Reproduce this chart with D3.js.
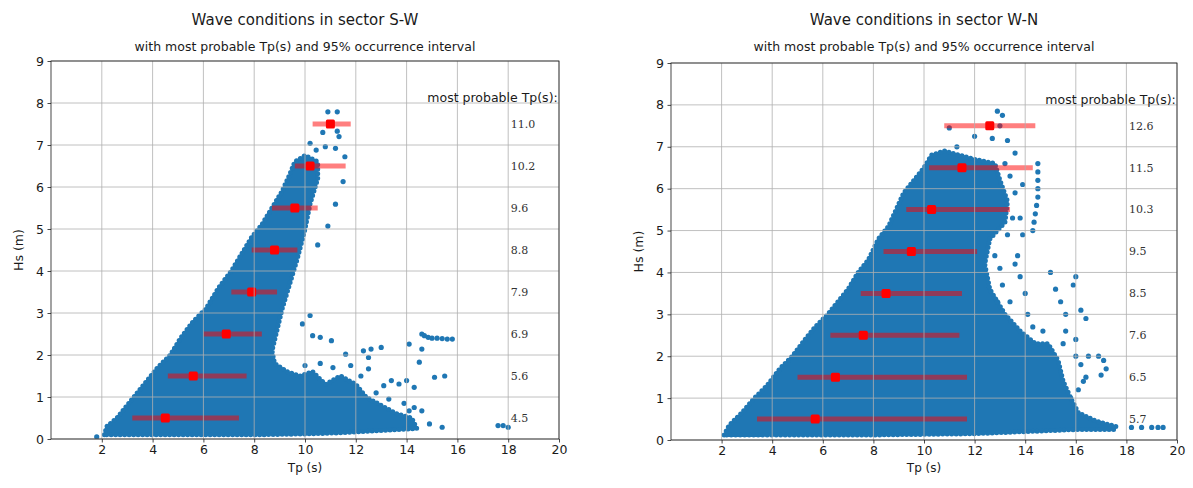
<!DOCTYPE html>
<html>
<head>
<meta charset="utf-8">
<script src="https://cdn.jsdelivr.net/npm/d3@7"></script>
<style>
  html, body { margin: 0; padding: 0; background: #ffffff; }
  svg { display: block; }
</style>
</head>
<body>
<div id="chart"></div>
<script>
// Wave conditions per sector: Hs against Tp, with most probable Tp and 95% interval per 1 m Hs bin

const tpTicks = [2, 4, 6, 8, 10, 12, 14, 16, 18, 20];
const hsTicks = [0, 1, 2, 3, 4, 5, 6, 7, 8, 9];
const hsBins = [0.5, 1.5, 2.5, 3.5, 4.5, 5.5, 6.5, 7.5];

// sector S-W
const swMostProbable = [4.5, 5.6, 6.9, 7.9, 8.8, 9.6, 10.2, 11.0];
const swLow = [3.2, 4.6, 6.0, 7.1, 7.9, 8.7, 9.6, 10.3];
const swHigh = [7.4, 7.7, 8.3, 8.9, 9.7, 10.5, 11.6, 11.8];
const swCloud = [
  [2.1, 0.1], [2.2, 0.3], [2.6, 0.5], [3.0, 0.8], [3.4, 1.1], [3.8, 1.4], [4.2, 1.7],
  [4.7, 2.0], [5.1, 2.4], [5.6, 2.8], [6.1, 3.1], [6.6, 3.6], [7.1, 4.0], [7.5, 4.4],
  [7.9, 4.8], [8.3, 5.1], [8.7, 5.5], [9.1, 5.9], [9.4, 6.3], [9.6, 6.6], [10.0, 6.75],
  [10.5, 6.6], [10.5, 6.2], [10.2, 5.6], [10.0, 5.0], [9.7, 4.3], [9.4, 3.7], [9.1, 3.1],
  [8.9, 2.6], [8.7, 2.1], [8.8, 1.8], [9.3, 1.6], [9.8, 1.5], [10.3, 1.6], [10.8, 1.3],
  [11.4, 1.5], [12.0, 1.3], [12.4, 1.0], [13.0, 0.8], [13.6, 0.6], [14.2, 0.5], [14.4, 0.25],
  [13.0, 0.2], [11.5, 0.15], [10.0, 0.12], [8.0, 0.1], [6.0, 0.1], [4.0, 0.1], [2.6, 0.1]
];
const swPoints = [
  [1.8, 0.05], [10.9, 7.79], [11.27, 7.79], [10.7, 7.3], [11.27, 7.33], [11.34, 7.2],
  [10.2, 7.04], [10.8, 6.96], [10.44, 6.88], [11.2, 6.92], [11.57, 6.72], [10.07, 6.7],
  [11.5, 6.13], [11.2, 5.59], [10.9, 5.07], [10.5, 4.62], [10.2, 2.94],
  [9.9, 2.74], [10.3, 2.46], [10.6, 2.42], [11.04, 2.34], [11.6, 2.02], [12.3, 2.1],
  [12.6, 2.14], [13.0, 2.18], [14.1, 2.26], [14.6, 2.14], [14.6, 2.5], [14.7, 2.46],
  [14.85, 2.42], [15.0, 2.4], [15.2, 2.4], [15.4, 2.39], [15.6, 2.38], [15.8, 2.38],
  [14.5, 1.83], [15.1, 1.47], [15.5, 1.5], [14.0, 1.39], [14.3, 1.23], [13.4, 1.39],
  [13.7, 1.31], [12.5, 1.94], [12.5, 1.67], [13.1, 1.27], [17.6, 0.32], [17.8, 0.32],
  [18.0, 0.28], [14.1, 0.67], [14.6, 0.67], [15.4, 0.28], [14.9, 0.36],
  [10.0, 1.75], [10.6, 1.8], [11.1, 1.7], [11.8, 1.75], [12.2, 1.5], [12.8, 1.1],
  [13.3, 0.95], [13.9, 0.85], [14.3, 0.75]
];

// sector W-N
const wnMostProbable = [5.7, 6.5, 7.6, 8.5, 9.5, 10.3, 11.5, 12.6];
const wnLow = [3.4, 5.0, 6.3, 7.5, 8.4, 9.3, 10.2, 10.8];
const wnHigh = [11.7, 11.7, 11.4, 11.5, 12.1, 13.4, 14.3, 14.4];
const wnCloud = [
  [2.1, 0.12], [2.3, 0.35], [2.8, 0.65], [3.3, 1.0], [3.8, 1.3], [4.3, 1.7], [4.8, 2.0],
  [5.3, 2.4], [5.7, 2.7], [6.2, 3.0], [6.6, 3.3], [7.0, 3.6], [7.4, 4.0], [7.8, 4.3],
  [8.2, 4.8], [8.6, 5.1], [8.9, 5.5], [9.2, 5.9], [9.6, 6.2], [10.0, 6.5], [10.3, 6.8],
  [10.8, 6.9], [11.4, 6.8], [12.0, 6.7], [12.8, 6.6], [13.0, 6.2], [13.3, 5.7], [13.2, 5.2],
  [12.6, 4.8], [12.4, 4.2], [12.6, 3.6], [13.2, 3.0], [13.8, 2.6], [14.4, 2.3], [14.9, 2.3],
  [15.3, 1.9], [15.5, 1.4], [15.8, 1.0], [16.1, 0.65], [16.8, 0.45], [17.6, 0.32],
  [17.5, 0.25], [16.0, 0.25], [14.0, 0.2], [12.0, 0.15], [8.0, 0.12], [4.0, 0.12]
];
const wnPoints = [
  [12.9, 7.85], [13.1, 7.75], [11.0, 7.45], [12.0, 7.25], [13.0, 7.5], [13.3, 7.15],
  [12.7, 7.2], [11.3, 7.0], [13.6, 6.85], [14.5, 6.6], [14.5, 6.4], [14.5, 6.2],
  [14.5, 6.0], [14.5, 5.8], [14.45, 5.6], [14.4, 5.4], [14.35, 5.2], [14.3, 5.0],
  [13.6, 5.9], [13.8, 5.3], [13.9, 4.9], [13.7, 4.4], [13.8, 3.9], [14.0, 3.5],
  [15.0, 4.0], [15.2, 3.6], [15.4, 3.3], [15.6, 3.0], [16.0, 3.9], [15.9, 3.7],
  [16.2, 3.1], [16.4, 2.9], [15.6, 2.6], [16.0, 2.4], [16.5, 2.0], [16.9, 2.0],
  [17.1, 1.9], [17.2, 1.7], [17.0, 1.55], [16.3, 1.4], [16.1, 1.2], [15.8, 1.0],
  [18.2, 0.3], [18.6, 0.3], [19.0, 0.3], [19.25, 0.3], [19.45, 0.3],
  [12.8, 4.4], [13.0, 4.1], [13.1, 3.7], [13.4, 3.3], [13.6, 4.2], [13.3, 4.9],
  [13.5, 5.3], [12.9, 3.3], [13.4, 6.3], [13.2, 6.6], [13.9, 6.1], [14.1, 3.0],
  [14.3, 2.7], [14.7, 2.6], [15.5, 2.3], [16.2, 1.8], [16.4, 1.5], [16.0, 2.0]
];

const panels = [
  {
    title: "Wave conditions in sector S-W",
    left: 51, right: 559, top: 61, bottom: 439,
    cloud: swCloud, points: swPoints,
    mostProbable: swMostProbable, low: swLow, high: swHigh
  },
  {
    title: "Wave conditions in sector W-N",
    left: 671, right: 1177, top: 63, bottom: 440,
    cloud: wnCloud, points: wnPoints,
    mostProbable: wnMostProbable, low: wnLow, high: wnHigh
  }
];

const width = 1193;
const height = 488;
const font = '"DejaVu Sans", sans-serif';
const blue = "#1f77b4";

const svg = d3.select("#chart")
  .append("svg")
  .attr("width", width)
  .attr("height", height)
  .attr("viewBox", [0, 0, width, height]);

svg.append("rect").attr("width", width).attr("height", height).attr("fill", "#ffffff");

panels.forEach(function(p) {
  const x = d3.scaleLinear().domain([0, 20]).range([p.left, p.right]);
  const y = d3.scaleLinear().domain([0, 9]).range([p.bottom, p.top]);
  const cx = (p.left + p.right) / 2;
  const g = svg.append("g");

  // titles
  g.append("text")
    .attr("x", cx)
    .attr("y", 25)
    .attr("text-anchor", "middle")
    .attr("font-family", font)
    .attr("font-size", 15)
    .attr("fill", "#1a1a1a")
    .text(p.title);

  g.append("text")
    .attr("x", cx)
    .attr("y", 51)
    .attr("text-anchor", "middle")
    .attr("font-family", font)
    .attr("font-size", 12.5)
    .attr("fill", "#1a1a1a")
    .text("with most probable Tp(s) and 95% occurrence interval");

  const clip = "clip-" + p.left;
  g.append("clipPath").attr("id", clip)
    .append("rect")
    .attr("x", p.left).attr("y", p.top)
    .attr("width", p.right - p.left).attr("height", p.bottom - p.top);

  const plot = g.append("g").attr("clip-path", "url(#" + clip + ")");

  // dense part of the scatter cloud, edge drawn as a row of dots
  const line = d3.line()
    .x(function(d) { return x(d[0]); })
    .y(function(d) { return y(d[1]); })
    .curve(d3.curveLinearClosed);

  plot.append("path")
    .attr("d", line(p.cloud))
    .attr("fill", blue)
    .attr("stroke", blue)
    .attr("stroke-width", 5)
    .attr("stroke-linecap", "round")
    .attr("stroke-dasharray", "0 4.5");

  plot.append("g")
    .selectAll("circle")
    .data(p.points)
    .join("circle")
    .attr("cx", function(d) { return x(d[0]); })
    .attr("cy", function(d) { return y(d[1]); })
    .attr("r", 2.6)
    .attr("fill", blue);

  // grid above the scatter, as matplotlib does
  const grid = g.append("g")
    .attr("stroke", "#b0b0b0")
    .attr("stroke-width", 0.8);
  grid.selectAll("line.gx")
    .data(tpTicks)
    .join("line")
    .attr("x1", function(d) { return x(d); })
    .attr("x2", function(d) { return x(d); })
    .attr("y1", p.top)
    .attr("y2", p.bottom);
  grid.selectAll("line.gy")
    .data(hsTicks)
    .join("line")
    .attr("class", "gy")
    .attr("x1", p.left)
    .attr("x2", p.right)
    .attr("y1", function(d) { return y(d); })
    .attr("y2", function(d) { return y(d); });

  // 95% intervals
  plot.append("g")
    .selectAll("line")
    .data(hsBins)
    .join("line")
    .attr("x1", function(d, i) { return x(p.low[i]); })
    .attr("x2", function(d, i) { return x(p.high[i]); })
    .attr("y1", function(d) { return y(d); })
    .attr("y2", function(d) { return y(d); })
    .attr("stroke", "#ff0000")
    .attr("stroke-opacity", 0.5)
    .attr("stroke-width", 5);

  // most probable Tp markers
  plot.append("g")
    .selectAll("rect")
    .data(hsBins)
    .join("rect")
    .attr("x", function(d, i) { return x(p.mostProbable[i]) - 4.5; })
    .attr("y", function(d) { return y(d) - 4.5; })
    .attr("width", 9)
    .attr("height", 9)
    .attr("rx", 1.5)
    .attr("fill", "#ff0000");

  // value column
  g.append("g")
    .selectAll("text")
    .data(hsBins)
    .join("text")
    .attr("x", x(18.1))
    .attr("y", function(d) { return y(d); })
    .attr("dy", "0.35em")
    .attr("font-family", '"DejaVu Serif", serif')
    .attr("font-size", 11)
    .attr("fill", "#333333")
    .text(function(d, i) { return p.mostProbable[i].toFixed(1); });

  g.append("text")
    .attr("x", x(19.95))
    .attr("y", y(8.12))
    .attr("dy", "0.35em")
    .attr("text-anchor", "end")
    .attr("font-family", font)
    .attr("font-size", 12.5)
    .attr("fill", "#1a1a1a")
    .text("most probable Tp(s):");

  // axes
  const xAxis = g.append("g")
    .attr("transform", "translate(0," + p.bottom + ")")
    .call(d3.axisBottom(x).tickValues(tpTicks).tickSize(3.5).tickPadding(2.5).tickFormat(d3.format("d")));
  const yAxis = g.append("g")
    .attr("transform", "translate(" + p.left + ",0)")
    .call(d3.axisLeft(y).tickValues(hsTicks).tickSize(3.5).tickPadding(3.5).tickFormat(d3.format("d")));

  [xAxis, yAxis].forEach(function(a) {
    a.select(".domain").remove();
    a.selectAll("text")
      .attr("font-family", font)
      .attr("font-size", 12.5)
      .attr("fill", "#1a1a1a");
    a.selectAll("line").attr("stroke", "#1a1a1a").attr("stroke-width", 0.8);
  });

  g.append("rect")
    .attr("x", p.left)
    .attr("y", p.top)
    .attr("width", p.right - p.left)
    .attr("height", p.bottom - p.top)
    .attr("fill", "none")
    .attr("stroke", "#1a1a1a")
    .attr("stroke-width", 0.8);

  g.append("text")
    .attr("x", cx)
    .attr("y", 472)
    .attr("text-anchor", "middle")
    .attr("font-family", font)
    .attr("font-size", 12)
    .attr("fill", "#1a1a1a")
    .text("Tp (s)");

  g.append("text")
    .attr("transform", "translate(" + (p.left - 28) + "," + ((p.top + p.bottom) / 2) + ") rotate(-90)")
    .attr("text-anchor", "middle")
    .attr("font-family", font)
    .attr("font-size", 12.5)
    .attr("fill", "#1a1a1a")
    .text("Hs (m)");
});
</script>
</body>
</html>
